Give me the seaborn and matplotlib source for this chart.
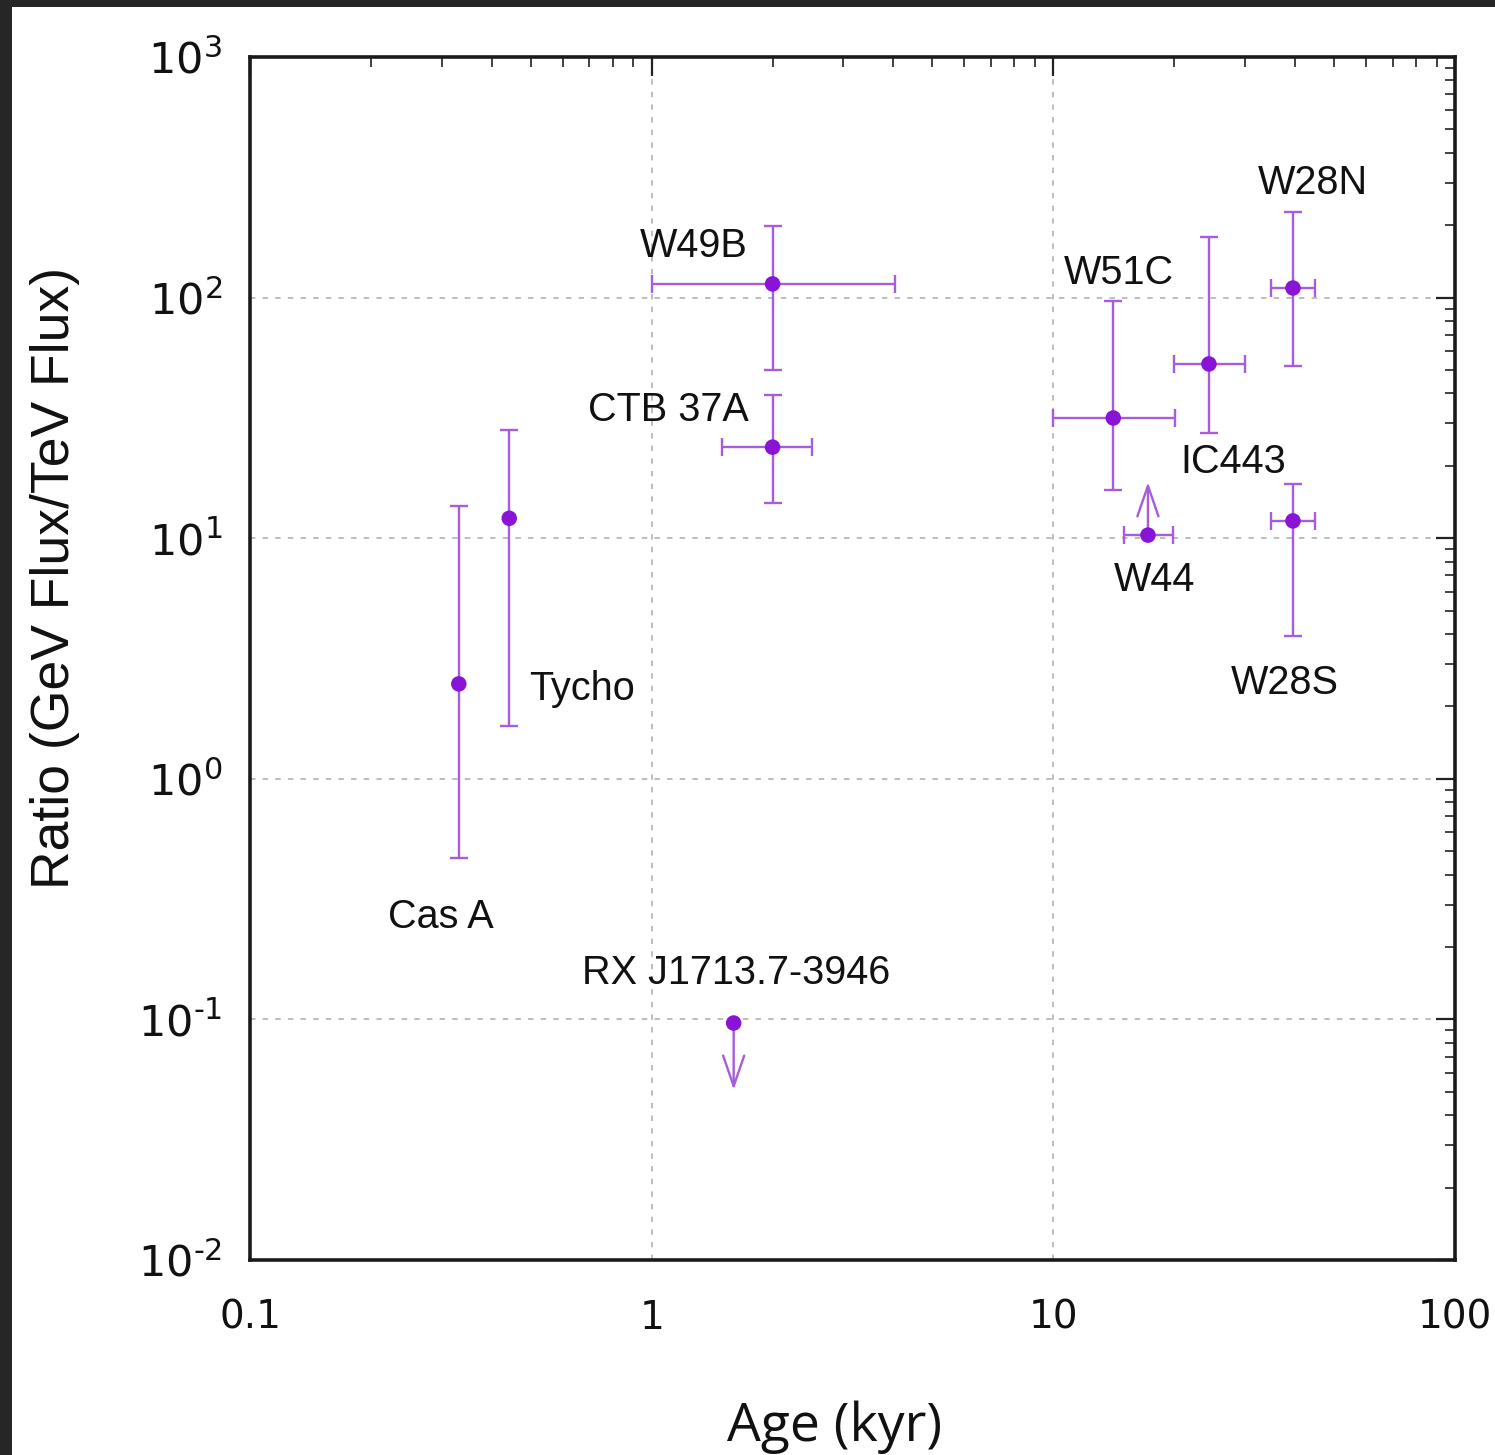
import numpy as np
import pandas as pd
import matplotlib
matplotlib.use("Agg")
import matplotlib.pyplot as plt
import seaborn as sns
from matplotlib.patches import Rectangle
from matplotlib.ticker import LogLocator, FixedLocator, FixedFormatter, NullFormatter

# ---------------- data ----------------
names = ["Cas A", "Tycho", "W49B", "CTB 37A", "RX J1713.7-3946",
         "W51C", "W44", "IC443", "W28N", "W28S"]
age = [0.331, 0.442, 2.0, 2.0, 1.60, 14.1, 17.2, 24.4, 39.5, 39.5]
age_lo = [0.331, 0.442, 1.0, 1.50, 1.60, 10.0, 15.0, 20.0, 34.8, 34.8]
age_hi = [0.331, 0.442, 4.03, 2.51, 1.60, 20.1, 19.9, 30.0, 44.8, 44.8]
ratio = [2.48, 12.1, 114.0, 23.9, 0.0966, 31.6, 10.3, 53.0, 109.6, 11.8]
ratio_lo = [0.469, 1.66, 50.0, 14.0, 0.0966, 15.9, 10.3, 27.4, 52.0, 3.92]
ratio_hi = [13.6, 28.2, 198.0, 39.4, 0.0966, 96.8, 10.3, 178.6, 227.0, 16.8]

# limits: (name, arrow end value)
limit_names = ["RX J1713.7-3946", "W44"]
limit_ends = [0.051, 17.1]

x_ticks = [0.1, 1, 10, 100]
x_tick_labels = ["0.1", "1", "10", "100"]
y_ticks = [1e-2, 1e-1, 1e0, 1e1, 1e2, 1e3]
y_tick_labels = ["$10^{\u2010" + "2}$", "$10^{\u2010" + "1}$", "$10^{0}$",
                 "$10^{1}$", "$10^{2}$", "$10^{3}$"]

# label placement (layout only)
label_pos = {
    "W49B": (1.27, 164), "CTB 37A": (1.10, 34.1), "Tycho": (0.671, 2.36),
    "Cas A": (0.299, 0.267), "RX J1713.7-3946": (1.62, 0.156),
    "W51C": (14.6, 126.5), "W28N": (44.3, 299), "IC443": (28.0, 20.7),
    "W44": (17.9, 6.70), "W28S": (37.7, 2.50),
}

df = pd.DataFrame({"name": names, "age": age, "age_lo": age_lo, "age_hi": age_hi,
                   "ratio": ratio, "ratio_lo": ratio_lo, "ratio_hi": ratio_hi})

# ---------------- style ----------------
sns.set_theme(style="white")
plt.rcParams["font.family"] = ["DejaVu Sans"]
plt.rcParams["mathtext.fontset"] = "dejavusans"

line_col = "#A65CDB"
mark_col = "#8A14D6"

fig = plt.figure(figsize=(14.95, 14.55), dpi=100)
fig.patch.set_facecolor("white")
ax = fig.add_axes([250/1495, 1 - 1260/1455, (1455-250)/1495, (1260-57)/1455])

# error bars
xerr = np.array([df["age"] - df["age_lo"], df["age_hi"] - df["age"]])
yerr = np.array([df["ratio"] - df["ratio_lo"], df["ratio_hi"] - df["ratio"]])
has_x = (df["age_hi"] - df["age_lo"]) > 0
has_y = (df["ratio_hi"] - df["ratio_lo"]) > 0
ax.errorbar(df["age"][has_x], df["ratio"][has_x], xerr=xerr[:, has_x.values],
            fmt="none", ecolor=line_col, elinewidth=1.7, capsize=6.5, capthick=1.7, zorder=3)
ax.errorbar(df["age"][has_y], df["ratio"][has_y], yerr=yerr[:, has_y.values],
            fmt="none", ecolor=line_col, elinewidth=1.7, capsize=6.5, capthick=1.7, zorder=3)

sns.scatterplot(data=df, x="age", y="ratio", ax=ax, color=mark_col, s=125,
                edgecolor="none", zorder=5, legend=False)

# limit arrows
for n, yend in zip(limit_names, limit_ends):
    row = df[df["name"] == n].iloc[0]
    ax.annotate("", xy=(row["age"], yend), xytext=(row["age"], row["ratio"]),
                arrowprops=dict(arrowstyle="->,head_length=1.1,head_width=0.38",
                                color=line_col, lw=1.7, shrinkA=0, shrinkB=0,
                                mutation_scale=20), zorder=4)

ax.set_xscale("log")
ax.set_yscale("log")
ax.set_xlim(0.1, 100)
ax.set_ylim(1e-2, 1e3)

# labels
for n in names:
    lx, ly = label_pos[n]
    ax.text(lx, ly, n, ha="center", va="center", fontsize=28.5,
            family=["Liberation Sans", "DejaVu Sans"], color="#111111", zorder=6)

# ticks
ax.xaxis.set_major_locator(FixedLocator(x_ticks))
ax.xaxis.set_major_formatter(FixedFormatter(x_tick_labels))
ax.yaxis.set_major_locator(FixedLocator(y_ticks))
ax.yaxis.set_major_formatter(FixedFormatter(y_tick_labels))
ax.xaxis.set_minor_locator(LogLocator(base=10, subs=np.arange(2, 10), numticks=20))
ax.yaxis.set_minor_locator(LogLocator(base=10, subs=np.arange(2, 10), numticks=20))
ax.xaxis.set_minor_formatter(NullFormatter())
ax.yaxis.set_minor_formatter(NullFormatter())
ax.tick_params(which="major", direction="in", length=14, width=1.6, color="#222222",
               top=True, right=True, labelsize=28, labelcolor="#111111")
ax.tick_params(which="minor", direction="in", length=7, width=1.3, color="#333333",
               top=True, right=True)
ax.tick_params(axis="x", which="major", pad=28)
ax.tick_params(axis="y", which="major", pad=20, labelsize=31)

for s in ax.spines.values():
    s.set_linewidth(2.6)
    s.set_color("#1a1a1a")

ax.grid(True, which="major", color="#b8b8b8", linestyle=(0, (3, 4)), linewidth=1.3)
ax.set_axisbelow(True)

ax.set_xlabel("Age (kyr)", fontsize=38.5, family=["Open Sans", "DejaVu Sans"],
              color="#111111", va="top")
ax.xaxis.set_label_coords((835-250)/1205, -(1400-1260)/1203)
ax.set_ylabel("Ratio (GeV Flux/TeV Flux)", fontsize=38.5,
              family=["Liberation Sans", "DejaVu Sans"], color="#111111", va="center")
ax.yaxis.set_label_coords(-(250-55)/1205, 1 - (578-57)/1203)

# dark frame strips
fig.add_artist(Rectangle((0, 1 - 7/1455), 1, 7/1455, transform=fig.transFigure,
                         facecolor="#262626", edgecolor="none"))
fig.add_artist(Rectangle((0, 0), 12/1495, 1, transform=fig.transFigure,
                         facecolor="#262626", edgecolor="none"))

fig.savefig("out.png", dpi=100, facecolor="white")
